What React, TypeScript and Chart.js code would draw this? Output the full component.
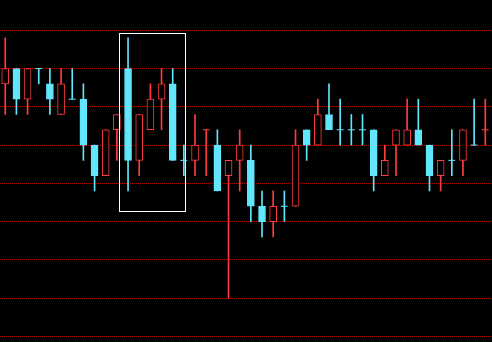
import React, { useEffect, useRef } from 'react';
import { Chart, registerables } from 'chart.js';

Chart.register(...registerables);

// Candle data (price units), one entry per session
const opens = [17, 18, 16, 18, 17, 15, 16, 16, 13, 11, 14, 18, 12, 14, 16, 17, 12, 12, 14, 13, 11, 12, 12, 9, 8, 9, 9, 14, 13, 15, 14, 14, 14, 14, 11, 13, 13, 14, 13, 11, 12, 12, 13, 14];
const highs = [20, 18, 18, 18, 18, 18, 18, 17, 13, 14, 15, 20, 15, 17, 18, 18, 13, 15, 14, 14, 12, 14, 13, 10, 10, 10, 14, 14, 16, 17, 16, 15, 15, 14, 13, 14, 16, 16, 13, 12, 14, 14, 16, 16];
const lows = [15, 15, 15, 17, 15, 15, 16, 12, 10, 11, 12, 10, 11, 14, 14, 12, 11, 11, 11, 10, 3, 10, 8, 7, 7, 8, 9, 12, 13, 14, 13, 13, 13, 10, 11, 11, 13, 13, 10, 10, 11, 11, 13, 13];
const closes = [18, 16, 18, 18, 16, 17, 16, 13, 11, 14, 15, 12, 15, 16, 17, 12, 12, 13, 14, 10, 12, 13, 9, 8, 9, 9, 13, 13, 15, 14, 14, 14, 14, 11, 12, 14, 14, 13, 11, 12, 12, 14, 13, 14];

// Horizontal reference levels and visible value range
const gridLevels = [0.5, 3, 5.5, 8, 10.5, 13, 15.5, 18, 20.5];
const yMin = 0.13;
const yMax = 22.48;
const xMin = -0.47;
const xMax = 43.6;

// Highlight box (index range and price range)
const boxFrom = 10.23;
const boxTo = 16.15;
const boxLow = 8.66;
const boxHigh = 20.29;

const UP = '#ff3b3b';
const DOWN = '#62e6fb';
const GRID = '#b00000';

function isUp(i: number): boolean {
  if (closes[i] !== opens[i]) return closes[i] > opens[i];
  return i > 0 && closes[i] > closes[i - 1];
}

const gridPlugin = {
  id: 'dottedLevels',
  beforeDatasetsDraw(chart: any) {
    const { ctx, scales, chartArea } = chart;
    const y = scales.y;
    ctx.save();
    ctx.strokeStyle = GRID;
    ctx.lineWidth = 1;
    ctx.setLineDash([1, 1]);
    for (const v of gridLevels) {
      const py = Math.floor(y.getPixelForValue(v)) + 0.5;
      ctx.beginPath();
      ctx.moveTo(Math.floor(chartArea.left), py);
      ctx.lineTo(Math.ceil(chartArea.right), py);
      ctx.stroke();
    }
    ctx.restore();
  },
};

const highlightPlugin = {
  id: 'highlightBox',
  afterDatasetsDraw(chart: any) {
    const { ctx, scales } = chart;
    const x = scales.x;
    const y = scales.y;
    const l = Math.floor(x.getPixelForValue(boxFrom)) + 0.5;
    const r = Math.floor(x.getPixelForValue(boxTo)) + 0.5;
    const t = Math.floor(y.getPixelForValue(boxHigh)) + 0.5;
    const b = Math.floor(y.getPixelForValue(boxLow)) + 0.5;
    ctx.save();
    ctx.strokeStyle = '#ffffff';
    ctx.lineWidth = 1;
    ctx.strokeRect(l, t, r - l, b - t);
    ctx.restore();
  },
};

export default function App() {
  const canvasRef = useRef<HTMLCanvasElement | null>(null);

  useEffect(() => {
    document.body.style.margin = '0';
    document.body.style.background = '#000';
    const canvas = canvasRef.current;
    if (!canvas) return;

    const idx = opens.map((_, i) => i);
    const wickData = idx.map((i) => ({ x: i, y: [lows[i], highs[i]] }));
    const wickColors = idx.map((i) => (isUp(i) ? UP : DOWN));

    const bodyIdx = idx.filter((i) => opens[i] !== closes[i]);
    const bodyData = bodyIdx.map((i) => ({
      x: i,
      y: [Math.min(opens[i], closes[i]), Math.max(opens[i], closes[i])],
    }));
    const bodyBg = bodyIdx.map((i) => (isUp(i) ? '#000000' : DOWN));
    const bodyBorder = bodyIdx.map((i) => (isUp(i) ? UP : DOWN));

    const dojiIdx = idx.filter((i) => opens[i] === closes[i]);
    const dojiData = dojiIdx.map((i) => ({ x: i, y: closes[i] }));
    const dojiColors = dojiIdx.map((i) => (isUp(i) ? UP : DOWN));

    const chart = new Chart(canvas, {
      type: 'bar',
      data: {
        datasets: [
          {
            type: 'bar',
            data: wickData as any,
            backgroundColor: wickColors,
            borderWidth: 0,
            barThickness: 1,
            grouped: false,
            order: 3,
          } as any,
          {
            type: 'bar',
            data: bodyData as any,
            backgroundColor: bodyBg,
            borderColor: bodyBorder,
            borderWidth: 1,
            borderSkipped: false,
            barThickness: 7,
            grouped: false,
            order: 2,
          } as any,
          {
            type: 'scatter',
            data: dojiData as any,
            pointStyle: 'line',
            pointRadius: 3.5,
            pointHoverRadius: 3.5,
            borderWidth: 1,
            borderColor: dojiColors,
            backgroundColor: dojiColors,
            showLine: false,
            order: 1,
          } as any,
        ],
      },
      options: {
        animation: false,
        responsive: false,
        maintainAspectRatio: false,
        events: [],
        layout: { padding: 0, autoPadding: false },
        plugins: {
          legend: { display: false },
          tooltip: { enabled: false },
        },
        scales: {
          x: {
            type: 'linear',
            min: xMin,
            max: xMax,
            offset: false,
            display: false,
            grid: { offset: false },
          },
          y: {
            type: 'linear',
            min: yMin,
            max: yMax,
            display: false,
          },
        },
      } as any,
      plugins: [gridPlugin, highlightPlugin],
    });

    return () => chart.destroy();
  }, []);

  return (
    <div style={{ position: 'fixed', left: 0, top: 0, width: 492, height: 342, background: '#000' }}>
      <canvas ref={canvasRef} width={492} height={342} style={{ display: 'block', background: '#000' }} />
    </div>
  );
}
